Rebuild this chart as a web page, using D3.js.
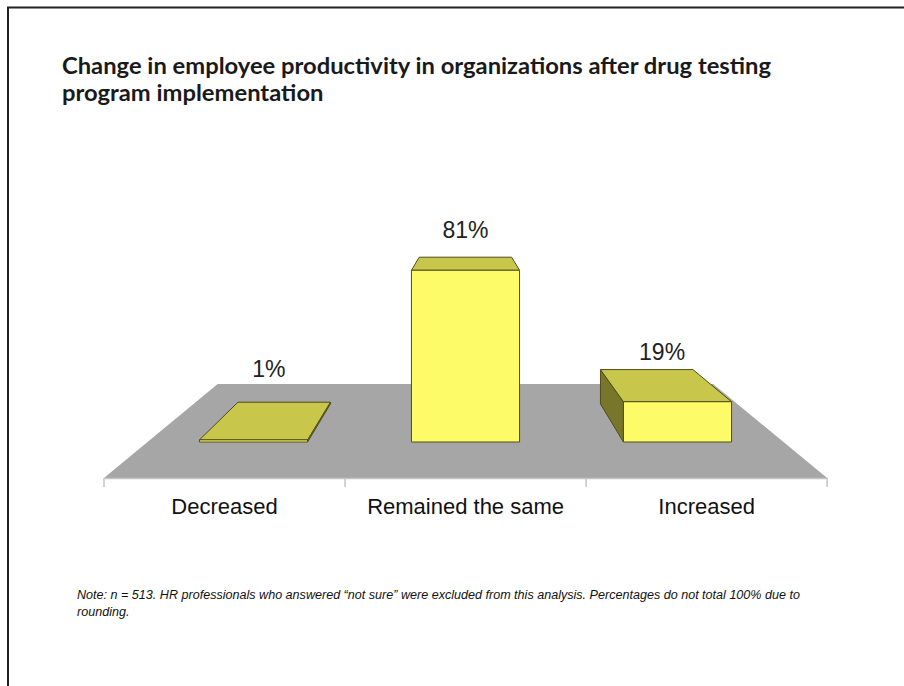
<!DOCTYPE html>
<html>
<head>
<meta charset="utf-8">
<script src="https://cdn.jsdelivr.net/npm/d3@7"></script>
<style>
  html, body { margin: 0; padding: 0; background: #fff; }
  svg { display: block; }
</style>
</head>
<body>
<svg id="chart" width="904" height="686"></svg>
<script>
// Survey results: change in productivity after a drug testing program
const categories = ["Decreased", "Remained the same", "Increased"];
const values = [1, 81, 19];
const valueLabels = ["1%", "81%", "19%"];
const titleLines = [
  "Change in employee productivity in organizations after drug testing",
  "program implementation"
];
const noteLines = [
  "Note: n = 513. HR professionals who answered \u201cnot sure\u201d were excluded from this analysis. Percentages do not total 100% due to",
  "rounding."
];

const svg = d3.select("#chart");

// Page frame
svg.append("path")
  .attr("d", "M8,686 V7.5 H904")
  .attr("fill", "none")
  .attr("stroke", "#222")
  .attr("stroke-width", 2);

// Title, condensed so the first line spans a fixed width
const title = svg.append("g").attr("font-family", "Lato, 'Open Sans', sans-serif")
  .attr("font-weight", "bold").attr("fill", "#1a1a1a");
const tl = title.selectAll("text").data(titleLines).join("text")
  .attr("x", 62).attr("y", (d, i) => 74 + i * 27)
  .attr("font-size", 22).text(d => d);
const tW = tl.nodes().map(n => n.getComputedTextLength());
const tk = 709 / tW[0];
tl.attr("textLength", (d, i) => tW[i] * tk).attr("lengthAdjust", "spacingAndGlyphs");

// Perspective set-up: coordinates are given in the plane of the bar fronts,
// and other depths are scaled toward the vanishing point.
const vp = { x: 465, y: 180 };
const depth = { floorFront: 1.137, barFront: 1, barBack: 0.855, floorBack: 0.779 };
const proj = (px, py, s) => [vp.x + (px - vp.x) * s, vp.y + (py - vp.y) * s];

const x = d3.scaleBand().domain(categories).range([147.5, 783.5])
  .paddingInner(0.49).paddingOuter(0.245);
const y = d3.scaleLinear().domain([0, 100]).range([442, 230]);

const line = d3.line();

// Floor
const [x0, x1] = x.range();
const base = y(0);
const floorBackY = proj(x0, base, depth.floorBack)[1];
svg.append("path")
  .attr("d", line([
    proj(x0, base, depth.floorFront), proj(x1, base, depth.floorFront),
    proj(x1, base, depth.floorBack), proj(x0, base, depth.floorBack)
  ]) + "Z")
  .attr("fill", "#a6a6a6");

// Category axis along the front edge of the floor
const xFront = d3.scaleBand().domain(categories)
  .range([proj(x0, base, depth.floorFront)[0], proj(x1, base, depth.floorFront)[0]])
  .paddingInner(0).paddingOuter(0);
const frontY = proj(x0, base, depth.floorFront)[1];
const axisG = svg.append("g").attr("transform", `translate(0,${frontY})`)
  .call(d3.axisBottom(xFront).tickSize(0).tickPadding(20));
axisG.select(".domain").attr("stroke", "#c4c4c4").attr("stroke-width", 1.5);
axisG.selectAll("text")
  .attr("font-family", "'Liberation Sans', Arial, sans-serif")
  .attr("font-size", 22).attr("fill", "#111");
const bounds = categories.map(c => xFront(c)).concat([xFront.range()[1]]);
axisG.selectAll("line.bound").data(bounds).join("line")
  .attr("class", "bound")
  .attr("x1", d => d).attr("x2", d => d)
  .attr("y1", 0).attr("y2", 9)
  .attr("stroke", "#c4c4c4").attr("stroke-width", 1.5);

// Bars as perspective boxes
const colors = { front: "#fdfb68", top: "#c9c64c", side: "#77762a", edge: "#4f4e1a" };
const bars = svg.append("g");
categories.forEach((c, i) => {
  const l = x(c), r = x(c) + x.bandwidth();
  const t = y(values[i]);
  const F = (px, py) => proj(px, py, depth.barFront);
  const B = (px, py) => proj(px, py, depth.barBack);
  const g = bars.append("g");
  // visible side face: the one facing the vanishing point
  if (r < vp.x) {
    g.append("path").attr("d", line([F(r, base), F(r, t), B(r, t), B(r, base)]) + "Z")
      .attr("fill", colors.side).attr("stroke", colors.edge).attr("stroke-linejoin", "round");
  } else if (l > vp.x) {
    g.append("path").attr("d", line([F(l, base), F(l, t), B(l, t), B(l, base)]) + "Z")
      .attr("fill", colors.side).attr("stroke", colors.edge).attr("stroke-linejoin", "round");
  }
  // top face
  g.append("path").attr("d", line([F(l, t), F(r, t), B(r, t), B(l, t)]) + "Z")
    .attr("fill", colors.top).attr("stroke", colors.edge).attr("stroke-linejoin", "round");
  // front face
  g.append("path").attr("d", line([F(l, base), F(r, base), F(r, t), F(l, t)]) + "Z")
    .attr("fill", colors.front).attr("stroke", colors.edge).attr("stroke-linejoin", "round");

  // value label: above the back of the top face, but never below the floor's back edge
  const mid = proj(l + x.bandwidth() / 2, t, (depth.barFront + depth.barBack) / 2);
  const back = B(l + x.bandwidth() / 2, t);
  const anchorY = Math.min(back[1], floorBackY);
  svg.append("text")
    .attr("x", mid[0]).attr("y", anchorY - 7 - values[i] * 0.15)
    .attr("text-anchor", "middle")
    .attr("font-family", "'Liberation Sans', Arial, sans-serif")
    .attr("font-size", 23).attr("fill", "#222")
    .text(valueLabels[i]);
});

// Footnote, condensed to its line width
const note = svg.append("g")
  .attr("font-family", "'Liberation Sans Narrow', 'Liberation Sans', Arial, sans-serif")
  .attr("font-style", "italic").attr("fill", "#111");
const nl = note.selectAll("text").data(noteLines).join("text")
  .attr("x", 77).attr("y", (d, i) => 599 + i * 17)
  .attr("font-size", 12.5).text(d => d);
const nW = nl.nodes().map(n => n.getComputedTextLength());
const k = 723 / nW[0];
nl.attr("textLength", (d, i) => nW[i] * k).attr("lengthAdjust", "spacingAndGlyphs");
</script>
</body>
</html>
